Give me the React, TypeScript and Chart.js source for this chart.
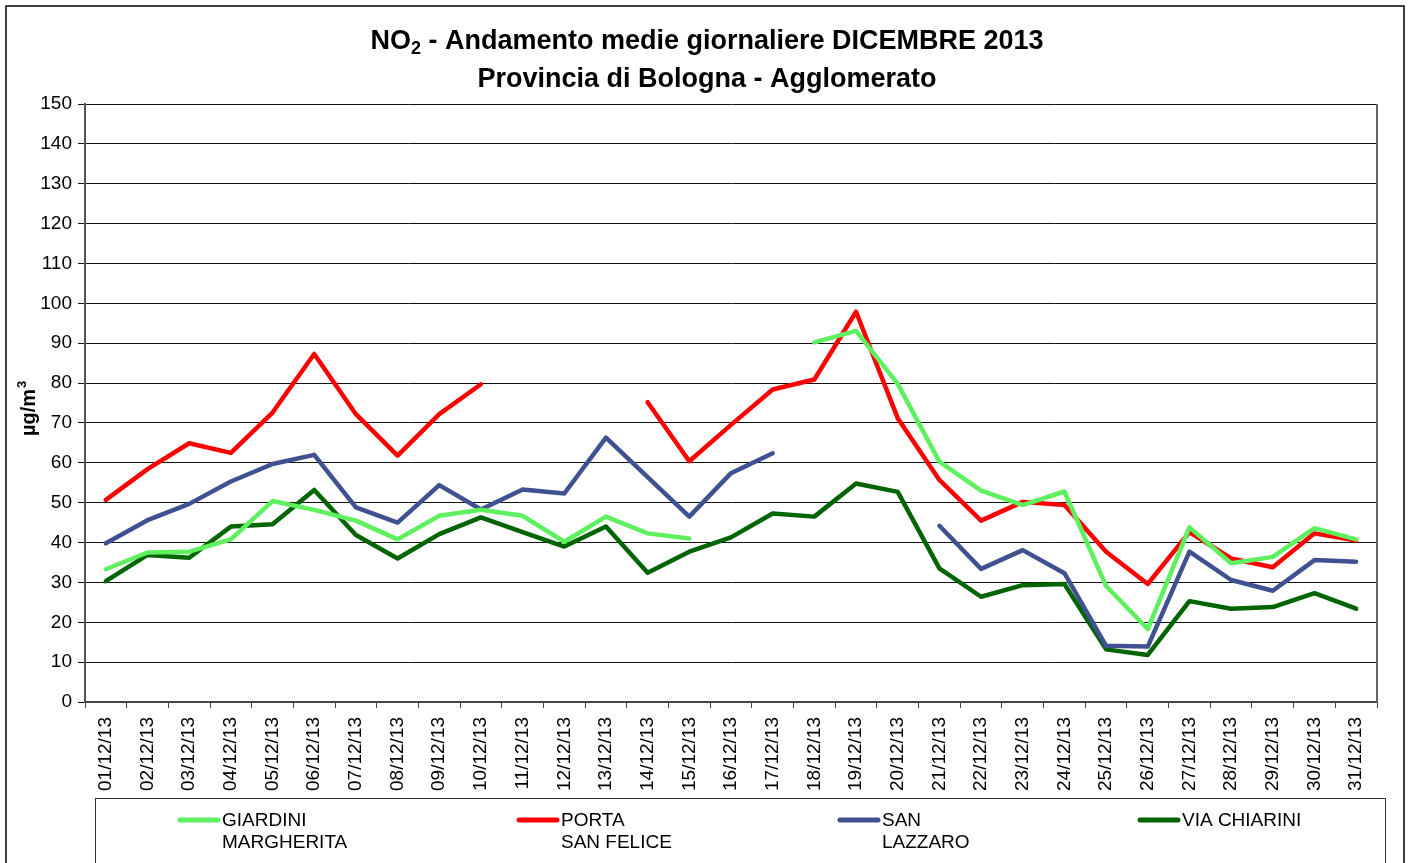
import React, { useEffect, useRef } from "react";
import { Chart, registerables } from "chart.js";

Chart.register(...registerables);

const categories = [
  "01/12/13", "02/12/13", "03/12/13", "04/12/13", "05/12/13", "06/12/13", "07/12/13", "08/12/13",
  "09/12/13", "10/12/13", "11/12/13", "12/12/13", "13/12/13", "14/12/13", "15/12/13", "16/12/13",
  "17/12/13", "18/12/13", "19/12/13", "20/12/13", "21/12/13", "22/12/13", "23/12/13", "24/12/13",
  "25/12/13", "26/12/13", "27/12/13", "28/12/13", "29/12/13", "30/12/13", "31/12/13",
];

const giardiniMargherita = [
  33.3, 37.5, 37.7, 40.8, 50.4, 48.2, 45.5, 40.8, 46.7, 48.2, 46.7, 40.2, 46.5, 42.3, 41.0, null,
  null, 90.2, 93.1, 79.8, 60.3, 53.0, 49.4, 52.8, 29.1, 18.3, 43.8, 34.8, 36.4, 43.6, 40.8,
];

const portaSanFelice = [
  50.7, 58.4, 64.9, 62.5, 72.6, 87.3, 72.2, 61.8, 72.2, 79.7, null, null, null, 75.2, 60.4, 69.5,
  78.4, 80.9, 97.9, 71.2, 55.7, 45.5, 50.2, 49.4, 37.7, 29.6, 42.6, 36.0, 33.8, 42.3, 40.5,
];

const sanLazzaro = [
  39.8, 45.6, 49.7, 55.3, 59.7, 62.0, 48.8, 45.0, 54.4, 48.3, 53.3, 52.3, 66.3, 56.4, 46.5, 57.4,
  62.4, null, null, null, 44.2, 33.4, 38.1, 32.3, 14.1, 13.9, 37.7, 30.6, 27.9, 35.6, 35.2,
];

const viaChiarini = [
  30.3, 36.9, 36.2, 44.0, 44.6, 53.2, 41.9, 36.0, 42.1, 46.3, 42.6, 39.0, 44.0, 32.4, 37.7, 41.3,
  47.3, 46.5, 54.8, 52.7, 33.5, 26.4, 29.3, 29.6, 13.2, 11.8, 25.3, 23.4, 23.8, 27.3, 23.4,
];

const seriesNames = [
  ["GIARDINI", "MARGHERITA"],
  ["PORTA", "SAN FELICE"],
  ["SAN", "LAZZARO"],
  ["VIA CHIARINI"],
];
const seriesColors = ["#5ef05e", "#ff0000", "#3f5190", "#006400"];

const titleMain = "NO";
const titleSub = "2";
const titleRest = " - Andamento medie giornaliere DICEMBRE 2013";
const titleLine2 = "Provincia di Bologna - Agglomerato";
const yAxisTitleMain = "µg/m";
const yAxisTitleSup = "3";

const FONT = "'Liberation Sans', Arial, Helvetica, sans-serif";

const decorPlugin = {
  id: "decor",
  afterDraw(chart: any) {
    const ctx = chart.ctx as CanvasRenderingContext2D;
    const area = chart.chartArea;
    ctx.save();
    // outer border
    ctx.strokeStyle = "#000";
    ctx.lineWidth = 1.5;
    ctx.strokeRect(6, 6, 1398, 880);
    // right border of plot
    ctx.strokeStyle = "#666";
    ctx.lineWidth = 2;
    ctx.beginPath();
    ctx.moveTo(area.right, area.top);
    ctx.lineTo(area.right, area.bottom);
    ctx.stroke();

    // title
    ctx.fillStyle = "#000";
    ctx.textBaseline = "alphabetic";
    ctx.textAlign = "left";
    const big = `bold 27px ${FONT}`;
    const small = `bold 18px ${FONT}`;
    ctx.font = big;
    const w1 = ctx.measureText(titleMain).width;
    const w3 = ctx.measureText(titleRest).width;
    ctx.font = small;
    const w2 = ctx.measureText(titleSub).width;
    const total = w1 + w2 + w3;
    const cx = 707;
    let x = cx - total / 2;
    const y1 = 49;
    ctx.font = big;
    ctx.fillText(titleMain, x, y1);
    x += w1;
    ctx.font = small;
    ctx.fillText(titleSub, x, y1 + 5);
    x += w2;
    ctx.font = big;
    ctx.fillText(titleRest, x, y1);
    ctx.textAlign = "center";
    ctx.fillText(titleLine2, cx, 87);

    // y axis title
    ctx.save();
    ctx.translate(35, 436);
    ctx.rotate(-Math.PI / 2);
    ctx.textAlign = "left";
    ctx.font = `bold 20px ${FONT}`;
    ctx.fillText(yAxisTitleMain, 0, 0);
    const wy = ctx.measureText(yAxisTitleMain).width;
    ctx.font = `bold 13px ${FONT}`;
    ctx.fillText(yAxisTitleSup, wy + 1, -9);
    ctx.restore();

    // legend box
    ctx.strokeStyle = "#333";
    ctx.lineWidth = 1;
    ctx.strokeRect(95.5, 798.5, 1290, 80);
    const legendX = [178, 517, 838, 1138];
    ctx.font = `19px ${FONT}`;
    ctx.textAlign = "left";
    ctx.textBaseline = "middle";
    seriesNames.forEach((lines, i) => {
      const lx = legendX[i];
      ctx.strokeStyle = seriesColors[i];
      ctx.lineWidth = 5;
      ctx.lineCap = "round";
      ctx.beginPath();
      ctx.moveTo(lx + 2, 820);
      ctx.lineTo(lx + 40, 820);
      ctx.stroke();
      ctx.fillStyle = "#000";
      lines.forEach((t, j) => ctx.fillText(t, lx + 44, 821 + j * 22));
    });
    ctx.restore();
  },
};

export default function App() {
  const ref = useRef<HTMLCanvasElement>(null);
  useEffect(() => {
    if (!ref.current) return;
    const data = [giardiniMargherita, portaSanFelice, sanLazzaro, viaChiarini];
    const chart = new Chart(ref.current, {
      type: "line",
      data: {
        labels: categories,
        datasets: data.map((d, i) => ({
          label: seriesNames[i].join(" "),
          data: d,
          borderColor: seriesColors[i],
          backgroundColor: seriesColors[i],
          borderWidth: 4.5,
          pointRadius: 0,
          pointHoverRadius: 0,
          spanGaps: false,
          tension: 0,
          borderJoinStyle: "round" as const,
          borderCapStyle: "round" as const,
        })),
      },
      options: {
        responsive: false,
        animation: false,
        layout: { padding: { left: 0, top: 104, right: 38, bottom: 66 } },
        plugins: {
          legend: { display: false },
          title: { display: false },
          tooltip: { enabled: false },
        },
        scales: {
          x: {
            type: "category",
            offset: true,
            grid: {
              offset: true,
              drawOnChartArea: false,
              drawTicks: true,
              tickLength: 6,
              color: "#444",
            },
            border: { color: "#444", width: 2 },
            ticks: {
              minRotation: 90,
              maxRotation: 90,
              autoSkip: false,
              padding: 9,
              color: "#000",
              font: { family: FONT, size: 19 },
            },
            afterFit: (s: any) => {
              s.height = 95;
            },
          },
          y: {
            min: 0,
            max: 150,
            ticks: {
              stepSize: 10,
              padding: 6,
              color: "#000",
              font: { family: FONT, size: 19 },
            },
            grid: { color: "#111", lineWidth: 1, tickLength: 7, drawTicks: true },
            border: { color: "#555", width: 2 },
            afterFit: (s: any) => {
              s.width = 85;
            },
          },
        },
      },
      plugins: [decorPlugin],
    });
    return () => chart.destroy();
  }, []);
  return (
    <div style={{ position: "fixed", left: 0, top: 0, width: 1415, height: 863, background: "#fff" }}>
      <canvas ref={ref} width={1415} height={863} />
    </div>
  );
}
